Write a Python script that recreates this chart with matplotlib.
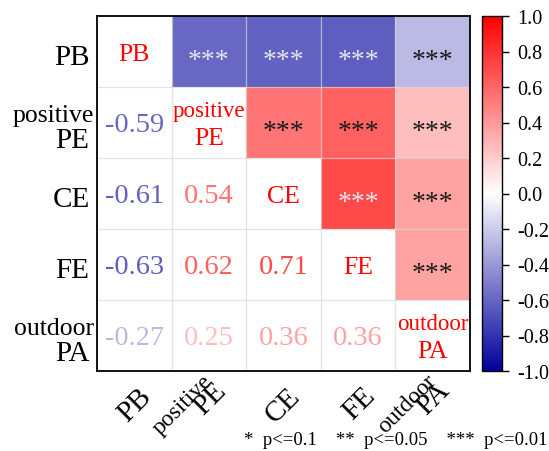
import matplotlib
matplotlib.use("Agg")
import matplotlib.pyplot as plt
import numpy as np
from matplotlib.colors import LinearSegmentedColormap, Normalize
from matplotlib.cm import ScalarMappable

# variables (row/column order)
names = ["PB", "PE", "CE", "FE", "PA"]
prefixes = ["", "positive", "", "", "outdoor"]

# lower-triangle correlations, row i vs column j (j < i)
r_PE = [-0.59]
r_CE = [-0.61, 0.54]
r_FE = [-0.63, 0.62, 0.71]
r_PA = [-0.27, 0.25, 0.36, 0.36]
lower = [[], r_PE, r_CE, r_FE, r_PA]

# significance marks for the upper triangle (all p<=0.01)
stars = [["", "***", "***", "***", "***"],
         ["", "", "***", "***", "***"],
         ["", "", "", "***", "***"],
         ["", "", "", "", "***"],
         ["", "", "", "", ""]]

legend_txt = "*  p<=0.1    **  p<=0.05    ***  p<=0.01"
cbar_ticks = [1.0, 0.8, 0.6, 0.4, 0.2, 0.0, -0.2, -0.4, -0.6, -0.8, -1.0]

SERIF = "Liberation Serif"
plt.rcParams.update({"font.family": SERIF, "axes.unicode_minus": False})

n = len(names)
R = np.eye(n)
for i in range(n):
    for j, v in enumerate(lower[i]):
        R[i, j] = v
        R[j, i] = v

cmap = LinearSegmentedColormap.from_list("bwr2", ["#00009c", "#ffffff", "#ff0000"])
norm = Normalize(-1, 1)

fig = plt.figure(figsize=(5.49, 4.52), dpi=100)
ax = fig.add_axes([97 / 549, 80 / 452, 373 / 549, 355 / 452])
cax = fig.add_axes([482 / 549, 80 / 452, 20 / 549, 355 / 452])

upper = np.where(np.triu(np.ones((n, n), bool), 1), R, np.nan)
ax.pcolormesh(np.arange(n + 1), np.arange(n + 1), np.ma.masked_invalid(upper),
              cmap=cmap, norm=norm)
ax.set_xlim(0, n)
ax.set_ylim(n, 0)
for k in range(1, n):
    ax.axvline(k, color="#d8d8d8", lw=0.9, alpha=0.7)
    ax.axhline(k, color="#d8d8d8", lw=0.9, alpha=0.7)
ax.set_xticks([])
ax.set_yticks([])
for s in ax.spines.values():
    s.set_linewidth(1.3)
    s.set_color("black")

for i in range(n):
    for j in range(n):
        x, y = j + 0.5, i + 0.5
        if i == j:
            if prefixes[i]:
                ax.text(x, y - 0.17, prefixes[i], color="red", fontsize=16.5,
                        ha="center", va="center")
                ax.text(x, y + 0.22, names[i], color="red", fontsize=18.5,
                        ha="center", va="center")
            else:
                ax.text(x, y + 0.03, names[i], color="red", fontsize=18.5,
                        ha="center", va="center")
        elif i > j:
            v = R[i, j]
            ax.text(x, y + 0.03, f"{v:.2f}", color=cmap(norm(v)), fontsize=20.5,
                    ha="center", va="center")
        else:
            v = R[i, j]
            rgb = np.array(cmap(norm(v))[:3])
            lum = 0.299 * rgb[0] + 0.587 * rgb[1] + 0.114 * rgb[2]
            c = "#e6e6ee" if lum < 0.53 else "#1a1a1a"
            ax.text(x, y + 0.12, stars[i][j], color=c, fontsize=20,
                    ha="center", va="center")

# y labels
for i in range(n):
    if prefixes[i]:
        ax.text(-0.04, i + 0.4, prefixes[i], fontsize=18.5, ha="right", va="center")
        ax.text(-0.1, i + 0.74, names[i], fontsize=21, ha="right", va="center")
    else:
        ax.text(-0.1, i + 0.58, names[i], fontsize=21, ha="right", va="center")

# x labels (rotated)
for j in range(n):
    if prefixes[j]:
        ax.text(j + 0.55, n + 0.08, names[j], fontsize=21, rotation=45,
                rotation_mode="anchor", ha="right", va="top")
        ax.text(j + 0.41, n - 0.01, prefixes[j], fontsize=17, rotation=45,
                rotation_mode="anchor", ha="right", va="top")
    else:
        ax.text(j + 0.55, n + 0.16, names[j], fontsize=21, rotation=45,
                rotation_mode="anchor", ha="right", va="top")

sm = ScalarMappable(norm=norm, cmap=cmap)
cb = fig.colorbar(sm, cax=cax, ticks=cbar_ticks)
cb.ax.set_yticklabels([f"{t:.1f}" for t in cbar_ticks], fontsize=14.5)
cb.ax.tick_params(length=5, width=1, pad=6)
cb.outline.set_linewidth(1.0)

fig.text(548 / 549, 1 - 441 / 452, legend_txt, fontsize=13.5, ha="right", va="center")

fig.savefig("out.png", dpi=100)
